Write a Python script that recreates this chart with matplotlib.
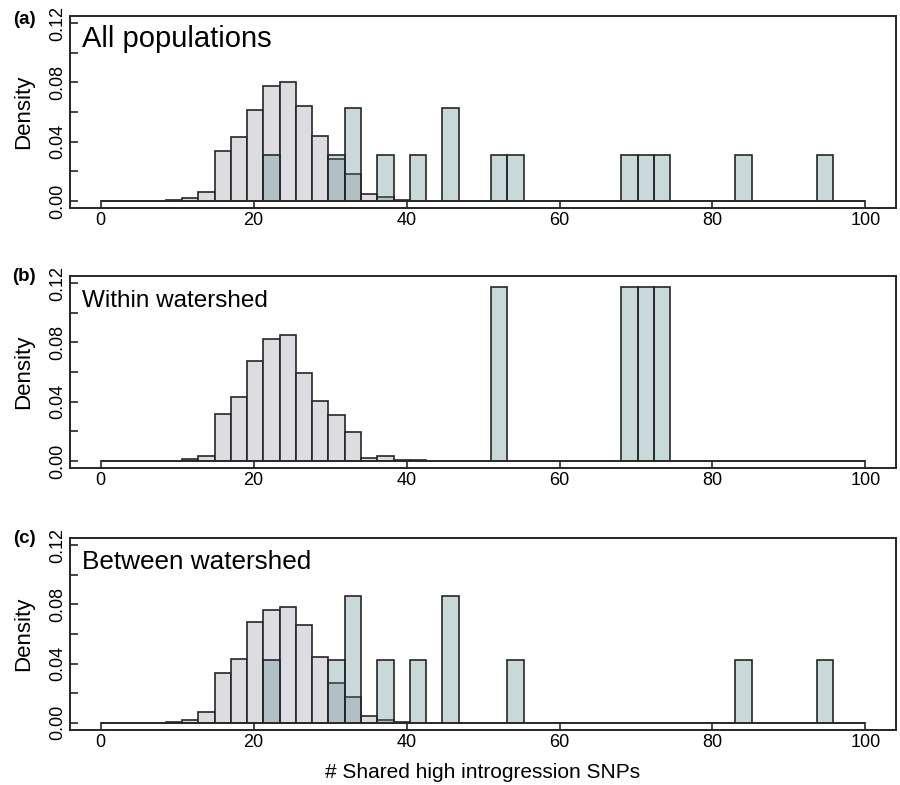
import numpy as np
import matplotlib
matplotlib.use("Agg")
import matplotlib.pyplot as plt

plt.rcParams['font.family'] = ['Liberation Sans', 'DejaVu Sans']

# 47 equal bins between 0 and 100 (as in R's hist output)
n_bins = 47
breaks = np.linspace(0, 100, n_bins + 1)

# null (simulated) densities, bins 0..19 (the rest are zero)
null_a = [0, 0, 0, 0, 0.0004, 0.0020, 0.0061, 0.0334, 0.0430, 0.0613,
          0.0778, 0.0800, 0.0642, 0.0435, 0.0280, 0.0183, 0.0045, 0.0024, 0.0006, 0.0002]
null_b = [0, 0, 0, 0, 0.0002, 0.0016, 0.0032, 0.0317, 0.0430, 0.0675,
          0.0820, 0.0850, 0.0596, 0.0406, 0.0313, 0.0193, 0.0020, 0.0030, 0.0009, 0.0005]
null_c = [0, 0, 0, 0, 0.0005, 0.0018, 0.0070, 0.0340, 0.0430, 0.0680,
          0.0763, 0.0780, 0.0659, 0.0447, 0.0271, 0.0176, 0.0047, 0.0017, 0.0003, 0]

# observed densities: bin index -> density
obs_bins_a = [10, 14, 15, 17, 19, 21, 24, 25, 32, 33, 34, 39, 44]
obs_dens_a = [0.0313, 0.0313, 0.0627, 0.0313, 0.0313, 0.0627, 0.0313, 0.0313,
              0.0313, 0.0313, 0.0313, 0.0313, 0.0313]
obs_bins_b = [24, 32, 33, 34]
obs_dens_b = [0.1175, 0.1175, 0.1175, 0.1175]
obs_bins_c = [10, 14, 15, 17, 19, 21, 25, 39, 44]
obs_dens_c = [0.0427, 0.0427, 0.0855, 0.0427, 0.0427, 0.0855, 0.0427, 0.0427, 0.0427]

titles = ["All populations", "Within watershed", "Between watershed"]
title_sizes = [21, 17.5, 18.8]
letters = ["(a)", "(b)", "(c)"]
x_ticks = [0, 20, 40, 60, 80, 100]
y_ticks = [0, 0.02, 0.04, 0.06, 0.08, 0.10, 0.12]

null_color = "#dcdce1"
obs_color = (0.31, 0.51, 0.51, 0.30)
edge = "#262626"


def full(vals):
    out = np.zeros(n_bins)
    out[:len(vals)] = vals
    return out


def sparse(bins, dens):
    out = np.zeros(n_bins)
    out[bins] = dens
    return out


panels = [
    (full(null_a), sparse(obs_bins_a, obs_dens_a)),
    (full(null_b), sparse(obs_bins_b, obs_dens_b)),
    (full(null_c), sparse(obs_bins_c, obs_dens_c)),
]

fig = plt.figure(figsize=(9, 7.85), dpi=100)
bottoms = [0.735, 0.4038, 0.0701]
width = breaks[1] - breaks[0]

for i, (nul, obs) in enumerate(panels):
    ax = fig.add_axes([0.0778, bottoms[i], 0.9178, 0.2445])
    ax.bar(breaks[:-1], nul, width=width, align='edge', color=null_color,
           edgecolor=edge, linewidth=1.2, zorder=2)
    ax.bar(breaks[:-1], obs, width=width, align='edge', color=obs_color,
           edgecolor=edge, linewidth=1.2, zorder=3)

    ax.set_xlim(-4, 104)
    ax.set_ylim(-0.0048, 0.1248)
    ax.set_xticks(x_ticks)
    ax.set_xticklabels([str(t) for t in x_ticks])
    ax.set_yticks(y_ticks)
    ax.set_yticklabels(["%.2f" % t if j % 2 == 0 else "" for j, t in enumerate(y_ticks)],
                       rotation=90, va='center')
    ax.tick_params(direction='in', length=6, width=1.2, labelsize=13, pad=3, color=edge)
    for s in ax.spines.values():
        s.set_linewidth(1.4)
        s.set_color(edge)

    ax.set_ylabel("Density", fontsize=16)
    ax.yaxis.set_label_coords(-0.043, 0.5)

    ax.text(0.0145, 0.837, titles[i], transform=ax.transAxes, fontsize=title_sizes[i],
            ha='left', va='baseline')
    ax.text(-0.0557, 1.0 if i else 0.98, letters[i], transform=ax.transAxes,
            fontsize=13.5, fontweight='bold', ha='center', va='center')

    if i == 2:
        ax.set_xlabel("# Shared high introgression SNPs", fontsize=15)
        ax.xaxis.set_label_coords(0.5, -0.17)

fig.savefig("out.png", dpi=100)
